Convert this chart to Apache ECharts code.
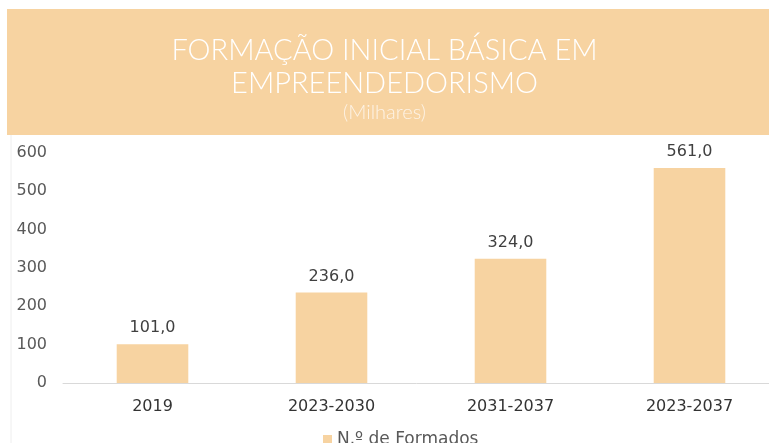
<!DOCTYPE html>
<html>
<head>
<meta charset="utf-8">
<script src="https://cdn.jsdelivr.net/npm/echarts@6/dist/echarts.min.js"></script>
<style>
  html, body { margin: 0; padding: 0; background: #fff; }
  #chart { width: 769px; height: 443px; }
</style>
</head>
<body>
<div id="chart"></div>
<script>
// Dados do gráfico
const categorias = ['2019', '2023-2030', '2031-2037', '2023-2037'];
const formados = [101.0, 236.0, 324.0, 561.0];
const nomeSerie = 'N.º de Formados';

const fonteEixos = 'DejaVu Sans';

const grafico = echarts.init(document.getElementById('chart'));
grafico.setOption({
    animation: false,
    textStyle: { fontFamily: fonteEixos },
    graphic: [
        { type: 'rect', shape: { x: 7, y: 9, width: 762, height: 126 }, style: { fill: '#F7D3A1' }, z: -1 },
        { type: 'line', shape: { x1: 11, y1: 135, x2: 11, y2: 443 }, style: { stroke: '#eeeeee', lineWidth: 1 } }
    ],
    title: {
        text: 'FORMAÇÃO INICIAL BÁSICA EM\nEMPREENDEDORISMO',
        subtext: '(Milhares)',
        left: 'center',
        top: 29,
        itemGap: 3,
        textStyle: { color: '#ffffff', fontSize: 29, fontWeight: 300, lineHeight: 33, fontFamily: 'Lato' },
        subtextStyle: { color: '#fdf3e6', fontSize: 20, fontWeight: 300, fontFamily: 'Lato' }
    },
    legend: {
        data: [nomeSerie],
        bottom: -10,
        left: 318,
        itemWidth: 9,
        itemHeight: 9,
        icon: 'rect',
        textStyle: { color: '#595959', fontSize: 17, fontFamily: fonteEixos }
    },
    grid: { left: 63, width: 716, top: 153, bottom: 60, outerBoundsMode: 'none' },
    xAxis: {
        type: 'category',
        data: categorias,
        axisLine: { lineStyle: { color: '#d9d9d9' } },
        axisTick: { lineStyle: { color: '#d9d9d9' }, length: 5 },
        axisLabel: { color: '#333333', fontSize: 16, margin: 16 }
    },
    yAxis: {
        type: 'value',
        min: 0,
        max: 600,
        interval: 100,
        axisLine: { show: false },
        axisTick: { show: false },
        splitLine: { show: false },
        axisLabel: { color: '#595959', fontSize: 16, margin: 16 }
    },
    series: [{
        name: nomeSerie,
        type: 'bar',
        data: formados,
        barWidth: '40%',
        itemStyle: { color: '#F7D3A1' },
        label: {
            show: true,
            position: 'top',
            distance: 8,
            color: '#404040',
            fontSize: 16,
            formatter: p => p.value.toFixed(1).replace('.', ',')
        }
    }]
});
</script>
</body>
</html>
